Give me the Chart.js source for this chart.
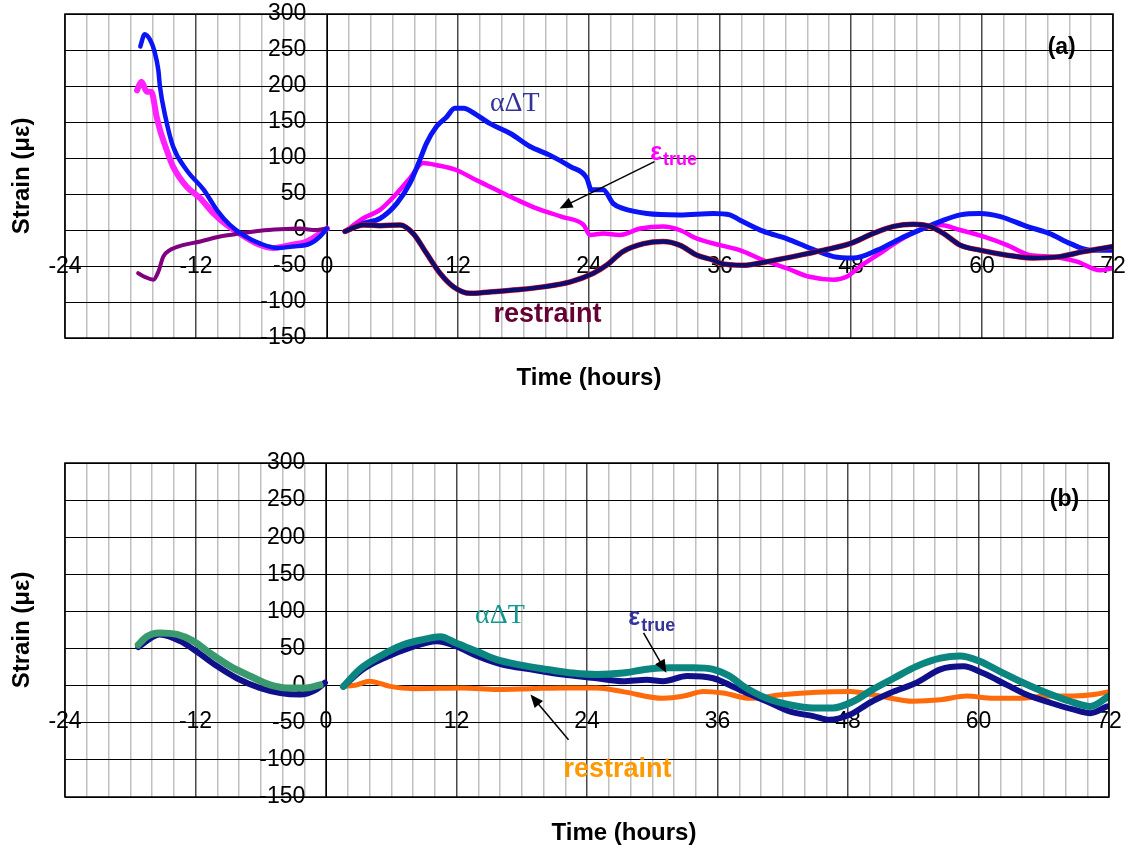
<!DOCTYPE html>
<html>
<head>
<meta charset="utf-8">
<script src="https://cdn.jsdelivr.net/npm/chart.js@4.4.1/dist/chart.umd.min.js"></script>
<style>
  html, body { margin: 0; padding: 0; background: #fff; overflow: hidden; }
  #wrap { position: relative; width: 1130px; height: 850px; }
  canvas { position: absolute; left: 0; }
  #panelA { top: 0; }
  #panelB { top: 425px; }
</style>
</head>
<body>
<div id="wrap">
  <canvas id="panelA" width="1130" height="425"></canvas>
  <canvas id="panelB" width="1130" height="425"></canvas>
</div>
<script>
// ---------- axis ticks ----------
const timeTicks = [-24, -12, 0, 12, 24, 36, 48, 60, 72];   // labelled hours
const timeGridStep = 2;                                      // light grid every 2 h
const strainTicks = [-150, -100, -50, 0, 50, 100, 150, 200, 250, 300];

// ---------- panel (a) ----------
// thermal strain alpha*dT, before and after the gap at t = 0
const aThermalPreT  = [-17.1, -16.7, -16.2, -15.8, -15.45, -15.3, -14.8, -14.1, -12.85, -11.3, -10.1, -8.9, -7.67, -6.1, -4.6, -3.1, -1.56, -0.64, 0];
const aThermalPreV  = [255, 272, 264, 248, 222, 199, 157, 116, 83, 56, 28, 7, -7, -19, -25, -23, -19, -9, 2];
const aThermalPostT = [1.65, 3.3, 4.85, 6.4, 7.6, 8.5, 9.1, 10.05, 10.96, 11.7, 12.5, 13.7, 14.9, 16.8, 18.6, 20.4, 22.3, 23.8, 24.2, 25.3, 26.2, 27.1, 29.3, 32.3, 35.4, 36.9, 37.8, 40.0, 42.1, 44.2, 46.4, 48.2, 50.4, 52.5, 54.3, 56.2, 58.0, 59.8, 61.6, 64.1, 66.2, 68.1, 69.9, 72];
const aThermalPostV = [-2, 9, 16, 37, 65, 97, 120, 144, 157, 169, 169, 160, 148, 134, 116, 104, 88, 72, 56, 56, 37, 30, 23, 21, 23, 21, 14, -2, -12, -25, -37, -39, -28, -12, 0, 12, 21, 23, 19, 5, -5, -19, -28, -28];
// true (measured) strain
const aTruePreT  = [-17.4, -17.0, -16.5, -16.1, -15.6, -15.3, -14.8, -14.1, -12.85, -11.6, -10.4, -9.2, -8.0, -6.4, -4.9, -3.4, -1.86, -0.64, 0];
const aTruePreV  = [194, 206, 192, 192, 157, 139, 116, 88, 60, 44, 23, 7, -5, -19, -25, -21, -16, -5, 2];
const aTruePostT = [1.65, 3.3, 4.85, 6.4, 7.6, 8.8, 10.05, 11.9, 13.7, 15.5, 17.4, 19.2, 21.6, 23.5, 24.1, 25.3, 26.8, 28.7, 30.8, 32.3, 33.9, 36.0, 37.8, 40.0, 42.1, 44.2, 46.4, 47.6, 48.8, 50.4, 52.5, 54.3, 56.2, 58.0, 60.1, 62.3, 64.4, 66.5, 68.7, 70.8, 72];
const aTruePostV = [-2, 16, 28, 51, 72, 93, 90, 83, 69, 56, 42, 30, 18, 7, -7, -5, -7, 2, 5, 0, -12, -21, -28, -42, -53, -65, -69, -65, -51, -35, -14, 0, 7, 0, -9, -21, -35, -37, -44, -56, -53];
// restraint strain
const aRestrPreT  = [-17.3, -16.7, -15.9, -15.45, -15.0, -14.4, -13.2, -11.6, -9.8, -8.0, -6.1, -4.3, -2.5, -1.25, 0];
const aRestrPreV  = [-60, -65, -69, -58, -37, -28, -21, -16, -9, -5, -1, 1, 2, 0, 2];
const aRestrPostT = [1.65, 3.3, 4.85, 6.7, 7.9, 9.1, 10.35, 11.6, 13.1, 14.9, 17.4, 19.8, 22.3, 24.4, 25.6, 27.1, 29.0, 30.8, 32.3, 33.9, 35.4, 36.0, 38.1, 40.3, 42.7, 45.5, 47.9, 50.0, 51.9, 53.7, 55.2, 56.5, 58.0, 59.8, 62.3, 64.7, 67.1, 69.3, 72];
const aRestrPostV = [-2, 7, 6, 7, -5, -32, -60, -79, -88, -86, -83, -79, -72, -60, -49, -30, -19, -16, -21, -35, -42, -46, -49, -44, -37, -28, -19, -5, 5, 8, 5, -5, -21, -28, -35, -39, -37, -30, -23];

// ---------- panel (b) ----------
const bThermalPreT  = [-17.26, -16.5, -15.3, -13.7, -12.2, -10.7, -8.8, -7.0, -5.15, -3.6, -1.8, -0.55];
const bThermalPreV  = [55, 66, 71, 69, 60, 44, 26, 13, 1, -3, -3, 1];
const bThermalPostT = [1.6, 3.1, 5.0, 7.1, 8.9, 10.5, 12.0, 13.9, 15.7, 17.8, 20.3, 22.7, 24.9, 27.3, 29.5, 31.6, 33.8, 35.6, 37.1, 38.4, 40.5, 42.7, 44.8, 46.6, 48.5, 50.3, 52.2, 54.3, 56.5, 58.3, 60.1, 62.0, 64.1, 66.3, 68.4, 70.3, 72];
const bThermalPostV = [-1, 22, 40, 55, 62, 66, 57, 46, 35, 28, 22, 17, 15, 17, 22, 24, 24, 22, 13, -1, -17, -26, -30, -30, -21, -5, 10, 26, 37, 40, 33, 19, 4, -10, -21, -28, -14];
const bTruePreT  = [-17.26, -15.3, -13.4, -11.9, -10.0, -8.2, -6.1, -4.2, -2.4, -0.86, -0.1];
const bTruePreV  = [52, 69, 60, 46, 26, 10, -3, -10, -12, -5, 4];
const bTruePostT = [1.6, 3.4, 5.3, 7.7, 10.2, 12.0, 13.9, 16.3, 18.8, 21.8, 24.9, 27.3, 29.5, 31.0, 33.2, 35.6, 37.1, 38.4, 40.5, 42.7, 44.8, 46.3, 48.2, 50.0, 52.2, 54.3, 56.5, 58.6, 60.4, 62.6, 64.4, 66.6, 68.7, 70.3, 71.8];
const bTruePostV = [-1, 22, 37, 51, 60, 53, 40, 28, 22, 15, 10, 6, 8, 6, 13, 10, 1, -8, -21, -35, -41, -46, -39, -23, -8, 4, 22, 26, 17, 1, -12, -23, -32, -37, -28];
const bRestrT = [1.6, 2.8, 4.0, 5.9, 8.0, 12.6, 15.7, 18.8, 21.8, 24.9, 27.3, 31.0, 32.9, 34.7, 36.5, 39.0, 42.1, 45.1, 48.2, 50.9, 54.0, 56.5, 58.9, 61.4, 63.8, 66.3, 68.7, 70.6, 72];
const bRestrV = [-1, 1, 6, -1, -4, -3, -5, -4, -3, -3, -8, -17, -14, -8, -10, -17, -12, -9, -8, -14, -21, -19, -14, -17, -17, -14, -14, -12, -8];

// ---------- styling ----------
const SANS = '"Liberation Sans", Arial, Helvetica, sans-serif';
const SERIF = '"Liberation Serif", "Times New Roman", serif';

function pts(t, v) { return t.map((x, i) => ({ x: x, y: v[i] })); }

function series(label, t, v, color, width, order) {
  return {
    label: label, data: pts(t, v), showLine: true, fill: false,
    borderColor: color, backgroundColor: color, borderWidth: width,
    pointRadius: 0, cubicInterpolationMode: 'monotone',
    borderCapStyle: 'round', borderJoinStyle: 'round',
    yAxisID: 'y', order: order
  };
}

// every grid position along the time axis
function timeGrid() {
  const out = [];
  const lo = timeTicks[0], hi = timeTicks[timeTicks.length - 1];
  for (let h = lo; h <= hi; h += timeGridStep) out.push({ value: h });
  return out;
}

function noEdgePadding(scale) {
  scale.paddingLeft = 0; scale.paddingRight = 0;
  scale.paddingTop = 0; scale.paddingBottom = 0;
}

function scales(labelGap) {
  return {
    x: {
      type: 'linear', min: timeTicks[0], max: timeTicks[timeTicks.length - 1],
      position: { y: 0 },
      afterBuildTicks: s => { s.ticks = timeGrid(); },
      afterFit: noEdgePadding,
      ticks: {
        autoSkip: false, maxRotation: 0, minRotation: 0, padding: labelGap,
        color: '#000', font: { family: SANS, size: 23 },
        callback: v => timeTicks.includes(v) ? String(v) : ''
      },
      grid: {
        drawTicks: false,
        color: c => (c.tick && timeTicks.includes(c.tick.value)) ? '#4a4a4a' : '#c0c0c0',
        lineWidth: 1.5
      },
      border: { display: true, color: '#000', width: 1 }
    },
    y: {
      type: 'linear', min: strainTicks[0], max: strainTicks[strainTicks.length - 1],
      position: { x: 0 },
      ticks: { stepSize: 50, display: false },
      grid: { color: '#000', lineWidth: 1, drawTicks: true, tickLength: 7, tickColor: '#000' },
      border: { display: true, color: '#000', width: 1 }
    },
    yl: {
      type: 'linear', axis: 'y', min: strainTicks[0], max: strainTicks[strainTicks.length - 1],
      position: { x: -1.9 },
      afterFit: noEdgePadding,
      ticks: {
        stepSize: 50, padding: 0, color: '#000', font: { family: SANS, size: 23 },
        callback: v => strainTicks.includes(v) ? String(v) : ''
      },
      grid: { display: false },
      border: { display: false }
    }
  };
}

// frame round the plot area
const framePlugin = {
  id: 'frame',
  afterDatasetsDraw(chart) {
    const { ctx, chartArea: a } = chart;
    ctx.save();
    ctx.strokeStyle = '#000';
    ctx.lineWidth = 1.5;
    ctx.strokeRect(a.left, a.top, a.right - a.left, a.bottom - a.top);
    ctx.restore();
  }
};

// axis titles, panel letter, series labels and arrows
function notesPlugin(items) {
  return {
    id: 'notes',
    afterDraw(chart) {
      const { ctx, chartArea: a } = chart;
      const sx = chart.scales.x, sy = chart.scales.y;
      const px = h => sx.getPixelForValue(h);
      const py = v => sy.getPixelForValue(v);
      ctx.save();
      for (const it of items) {
        if (it.kind === 'text') {
          ctx.font = it.font; ctx.fillStyle = it.color;
          ctx.textAlign = 'center'; ctx.textBaseline = 'middle';
          ctx.fillText(it.text, px(it.x), py(it.y));
        } else if (it.kind === 'xtitle') {
          ctx.font = it.font; ctx.fillStyle = '#000';
          ctx.textAlign = 'center'; ctx.textBaseline = 'middle';
          ctx.fillText(it.text, px(it.x), a.bottom + it.dy);
        } else if (it.kind === 'ytitle') {
          ctx.save();
          ctx.translate(a.left + it.dx, (a.top + a.bottom) / 2);
          ctx.rotate(-Math.PI / 2);
          ctx.font = it.font; ctx.fillStyle = '#000';
          ctx.textAlign = 'center'; ctx.textBaseline = 'middle';
          ctx.fillText(it.text, 0, 0);
          ctx.restore();
        } else if (it.kind === 'sub') {
          const x0 = px(it.x), y0 = py(it.y);
          ctx.fillStyle = it.color; ctx.textAlign = 'left'; ctx.textBaseline = 'alphabetic';
          ctx.font = it.mainFont;
          ctx.fillText(it.main, x0, y0);
          const w = ctx.measureText(it.main).width;
          ctx.font = it.subFont;
          ctx.fillText(it.sub, x0 + w + 1, y0 + it.drop);
        } else if (it.kind === 'arrow') {
          const x1 = px(it.from[0]), y1 = py(it.from[1]);
          const x2 = px(it.to[0]), y2 = py(it.to[1]);
          const ang = Math.atan2(y2 - y1, x2 - x1);
          const L = 13, W = 5.5;
          ctx.strokeStyle = '#000'; ctx.fillStyle = '#000'; ctx.lineWidth = 1.5;
          ctx.beginPath();
          ctx.moveTo(x1, y1);
          ctx.lineTo(x2 - Math.cos(ang) * L * 0.8, y2 - Math.sin(ang) * L * 0.8);
          ctx.stroke();
          ctx.beginPath();
          ctx.moveTo(x2, y2);
          ctx.lineTo(x2 - Math.cos(ang) * L - Math.sin(ang) * W, y2 - Math.sin(ang) * L + Math.cos(ang) * W);
          ctx.lineTo(x2 - Math.cos(ang) * L + Math.sin(ang) * W, y2 - Math.sin(ang) * L - Math.cos(ang) * W);
          ctx.closePath();
          ctx.fill();
        }
      }
      ctx.restore();
    }
  };
}

function makeChart(id, datasets, padding, labelGap, items) {
  return new Chart(document.getElementById(id), {
    type: 'scatter',
    data: { datasets: datasets },
    options: {
      responsive: false, animation: false, devicePixelRatio: 1, events: [],
      layout: { padding: padding },
      plugins: { legend: { display: false }, tooltip: { enabled: false }, title: { display: false } },
      scales: scales(labelGap)
    },
    plugins: [framePlugin, notesPlugin(items)]
  });
}

const TITLE_FONT = 'bold 24px ' + SANS;

makeChart('panelA', [
  series('restraint', aRestrPostT, aRestrPostV, '#0d0d70', 4.5, 0),
  series('restraint (red)', aRestrPostT, aRestrPostV, '#ff1a1a', 5.5, 1),
  series('αΔT', aThermalPostT, aThermalPostV, '#0a14f5', 5, 2),
  series('ε true', aTruePostT, aTruePostV, '#ff00ff', 4.5, 3),
  series('αΔT', aThermalPreT, aThermalPreV, '#0a14f5', 4.5, 4),
  series('restraint', aRestrPreT, aRestrPreV, '#800080', 4, 5),
  series('ε true', aTruePreT, aTruePreV, '#ff22ff', 6, 6)
], { left: 65, top: 14, right: 17, bottom: 87 }, 23, [
  { kind: 'xtitle', text: 'Time (hours)', x: 24.0, dy: 40, font: TITLE_FONT },
  { kind: 'ytitle', text: 'Strain (με)', dx: -43, font: TITLE_FONT },
  { kind: 'text', text: '(a)', x: 67.3, y: 253, font: 'bold 23px ' + SANS, color: '#000' },
  { kind: 'text', text: 'αΔT', x: 17.2, y: 175, font: '28px ' + SERIF, color: '#333399' },
  { kind: 'sub', main: 'ε', sub: 'true', x: 29.6, y: 97, mainFont: 'bold 25px ' + SANS, subFont: 'bold 18px ' + SANS, drop: 5, color: '#ff00ff' },
  { kind: 'arrow', from: [30.0, 95], to: [21.3, 30] },
  { kind: 'text', text: 'restraint', x: 20.2, y: -118, font: 'bold 27px ' + SANS, color: '#660033' }
]);

makeChart('panelB', [
  series('αΔT', bThermalPostT, bThermalPostV, '#0b8580', 7, 0),
  series('αΔT', bThermalPreT, bThermalPreV, '#3a9a6e', 7, 1),
  series('ε true', bTruePostT, bTruePostV, '#10108a', 6, 2),
  series('ε true', bTruePreT, bTruePreV, '#10108a', 6, 3),
  series('restraint', bRestrT, bRestrV, '#ff6a0a', 5, 4)
], { left: 65, top: 38, right: 21, bottom: 53 }, 22, [
  { kind: 'xtitle', text: 'Time (hours)', x: 27.4, dy: 36, font: TITLE_FONT },
  { kind: 'ytitle', text: 'Strain (με)', dx: -43, font: TITLE_FONT },
  { kind: 'text', text: '(b)', x: 67.9, y: 251, font: 'bold 23px ' + SANS, color: '#000' },
  { kind: 'text', text: 'αΔT', x: 16.0, y: 94, font: '28px ' + SERIF, color: '#14998f' },
  { kind: 'sub', main: 'ε', sub: 'true', x: 27.8, y: 82, mainFont: 'bold 25px ' + SANS, subFont: 'bold 18px ' + SANS, drop: 6, color: '#333399' },
  { kind: 'arrow', from: [29.2, 71], to: [31.3, 17.4] },
  { kind: 'text', text: 'restraint', x: 26.8, y: -113, font: 'bold 27px ' + SANS, color: '#ff9900' },
  { kind: 'arrow', from: [22.3, -73], to: [18.8, -12] }
]);
</script>
</body>
</html>
